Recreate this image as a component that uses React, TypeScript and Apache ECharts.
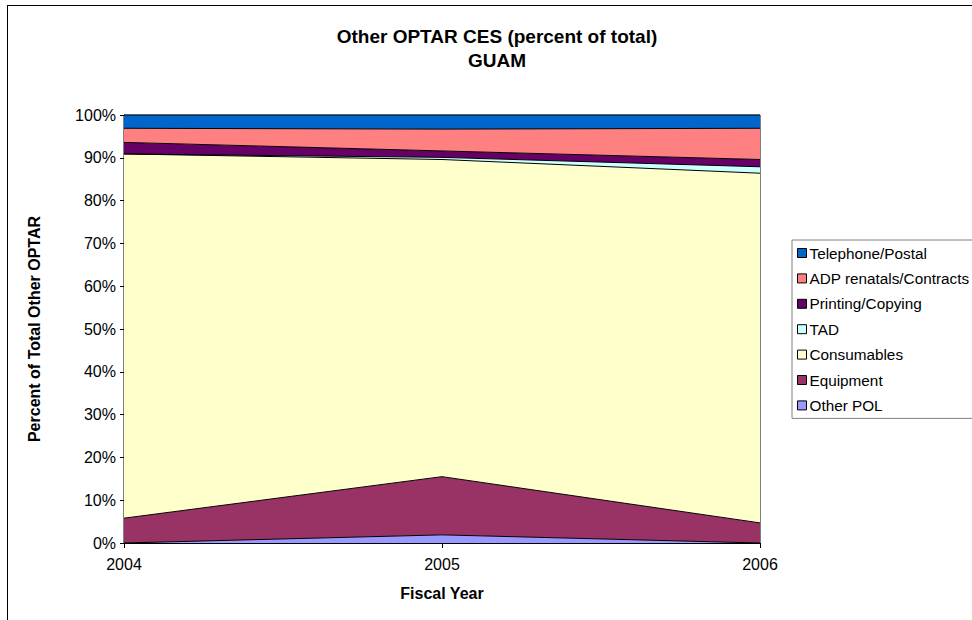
import React, { useEffect, useRef } from "react";
import * as echarts from "echarts";

const years = ["2004", "2005", "2006"];
const otherPOL = [0, 1.9, 0];
const equipment = [5.8, 13.6, 4.7];
const consumables = [85.1, 74.1, 81.7];
const tad = [0, 0.5, 1.5];
const printing = [2.7, 1.5, 1.7];
const adp = [3.3, 5.1, 7.3];
const telephone = [3.1, 3.3, 3.1];

const seriesDefs = [
  { name: "Other POL", data: otherPOL, color: "#9999FF" },
  { name: "Equipment", data: equipment, color: "#993366" },
  { name: "Consumables", data: consumables, color: "#FFFFCC" },
  { name: "TAD", data: tad, color: "#CCFFFF" },
  { name: "Printing/Copying", data: printing, color: "#660066" },
  { name: "ADP renatals/Contracts", data: adp, color: "#FF8080" },
  { name: "Telephone/Postal", data: telephone, color: "#0066CC" },
];

const FONT = "'Liberation Sans', Arial, sans-serif";
// chart content origin on the page is (8, 6)
const OX = 8;
const OY = 6;

export default function App() {
  const ref = useRef<HTMLDivElement>(null);
  useEffect(() => {
    if (!ref.current) return;
    const chart = echarts.init(ref.current, undefined, { renderer: "svg" });
    chart.setOption({
      animation: false,
      backgroundColor: "#ffffff",
      textStyle: { fontFamily: FONT, color: "#000" },
      graphic: [
        {
          type: "text",
          x: 497 - OX,
          y: 27 - OY,
          style: {
            text: "Other OPTAR CES (percent of total)",
            font: "bold 19px 'Liberation Sans', Arial, sans-serif",
            fill: "#000",
            textAlign: "center",
          },
        },
        {
          type: "text",
          x: 497 - OX,
          y: 51 - OY,
          style: {
            text: "GUAM",
            font: "bold 19px 'Liberation Sans', Arial, sans-serif",
            fill: "#000",
            textAlign: "center",
          },
        },
      ],
      grid: {
        left: 124 - OX,
        top: 115 - OY,
        width: 636,
        height: 428,
        show: true,
        borderColor: "#000",
        borderWidth: 1,
        backgroundColor: "transparent",
      },
      legend: {
        orient: "vertical",
        left: 792 - OX,
        top: 240 - OY,
        data: seriesDefs.map((s) => s.name).reverse(),
        itemWidth: 9,
        itemHeight: 9,
        itemGap: 7.4,
        icon: "rect",
        borderColor: "#808080",
        borderWidth: 1,
        padding: [4, 40, 4, 5],
        textStyle: { fontFamily: FONT, fontSize: 15.3, color: "#000", lineHeight: 18, padding: [0, 0, 0, -2] },
        itemStyle: { borderColor: "#000", borderWidth: 1 },
      },
      xAxis: {
        type: "category",
        data: years,
        boundaryGap: false,
        name: "Fiscal Year",
        nameLocation: "middle",
        nameGap: 42,
        nameTextStyle: { fontFamily: FONT, fontWeight: "bold", fontSize: 16, color: "#000" },
        axisLine: { lineStyle: { color: "#000", width: 1 } },
        axisTick: { show: true, length: 5, lineStyle: { color: "#000" } },
        axisLabel: { fontFamily: FONT, fontSize: 16, color: "#000", margin: 13 },
        splitLine: { show: false },
      },
      yAxis: {
        type: "value",
        min: 0,
        max: 100,
        interval: 10,
        name: "Percent of Total Other OPTAR",
        nameLocation: "middle",
        nameRotate: 90,
        nameGap: 82,
        nameTextStyle: { fontFamily: FONT, fontWeight: "bold", fontSize: 16, color: "#000" },
        axisLine: { show: true, lineStyle: { color: "#000", width: 1 } },
        axisTick: { show: true, length: 4, lineStyle: { color: "#000" } },
        axisLabel: { fontFamily: FONT, fontSize: 16, color: "#000", margin: 8, formatter: "{value}%" },
        splitLine: { show: false },
      },
      series: seriesDefs.map((s) => ({
        name: s.name,
        type: "line",
        stack: "total",
        data: s.data,
        symbol: "none",
        lineStyle: { color: "#000", width: 1 },
        itemStyle: { color: s.color, borderColor: "#000" },
        areaStyle: { color: s.color, opacity: 1 },
      })),
    });
    return () => chart.dispose();
  }, []);
  return (
    <div
      ref={ref}
      style={{
        position: "fixed",
        left: 7,
        top: 5,
        width: 965,
        height: 615,
        borderLeft: "1px solid #000",
        borderTop: "1px solid #000",
        background: "#fff",
      }}
    />
  );
}
